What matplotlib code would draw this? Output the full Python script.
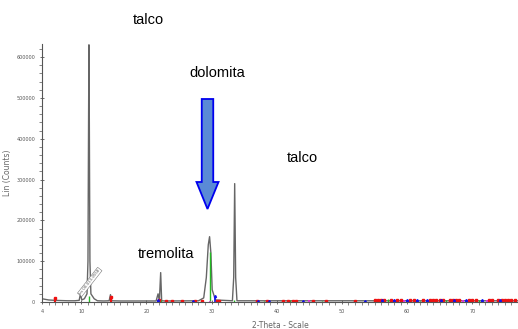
import matplotlib
matplotlib.use("Agg")
import matplotlib.pyplot as plt
from matplotlib.patches import FancyArrow

theta = [4.0, 5.0, 6.0, 7.0, 8.0, 9.0, 9.7, 9.9, 10.1, 10.5, 10.9, 11.05, 11.15,
         11.2, 11.25, 11.35, 11.5, 12.0, 12.5, 13.5, 14.3, 14.5, 14.7, 16.0,
         21.5, 21.8, 22.0, 22.2, 22.35, 23.0, 28.0, 28.8, 29.2, 29.5, 29.7,
         29.9, 30.1, 30.4, 30.6, 33.2, 33.4, 33.55, 33.7, 33.9, 40.0, 50.0,
         60.0, 70.0, 77.0]
counts = [8000, 5000, 4000, 3500, 3000, 3000, 4000, 20000, 5000, 8000, 20000,
          100000, 470000, 630000, 470000, 100000, 20000, 8000, 3000, 2500, 3000,
          18000, 3000, 2500, 2500, 20000, 3000, 72000, 3000, 2500, 3000, 10000,
          60000, 140000, 160000, 120000, 30000, 15000, 5000, 3000, 60000,
          290000, 60000, 3000, 3000, 3000, 3000, 3000, 3000]

# reference stick patterns (2-theta, counts)
green_pos = [11.2, 22.3, 29.7, 33.5, 38.0, 42.0, 47.0, 57.0, 62.0, 66.0, 71.0]
green_h = [15000, 6000, 122000, 6000, 3000, 4000, 3000, 8000, 3000, 4000, 4000]
red_pos = [6.0, 14.6, 22.0, 23.0, 24.0, 25.5, 27.5, 28.5, 30.8, 31.2, 37.0,
           38.5, 41.0, 41.8, 42.5, 43.0, 45.5, 47.5, 52.0, 55.0, 55.5, 56.0,
           56.5, 57.5, 58.5, 59.0, 60.5, 61.0, 62.5, 63.5, 64.0, 64.5, 65.0,
           65.5, 66.5, 67.0, 67.5, 68.0, 69.5, 70.0, 70.5, 72.5, 73.0, 74.0,
           74.5, 75.0, 75.5, 76.0, 76.5]
red_h = [9000, 12000, 4000, 3000, 3000, 3000, 3000, 3000, 3000, 3000, 3000,
         3000, 3000, 3000, 3000, 3000, 3000, 3000, 3000, 4000, 4000, 4000,
         4000, 4000, 4000, 4000, 4000, 4000, 4000, 4000, 4000, 4000, 4000,
         4000, 4000, 4000, 4000, 4000, 4000, 4000, 4000, 4000, 4000, 4000,
         4000, 4000, 4000, 4000, 4000]
blue_pos = [21.8, 27.2, 30.5, 37.2, 38.8, 44.0, 53.5, 56.2, 58.0, 60.0, 61.5,
            63.0, 65.2, 67.2, 69.0, 71.5, 74.2]
blue_h = [6000, 3000, 14000, 3000, 3000, 3000, 3000, 4000, 5000, 4000, 4000,
          4000, 4000, 4000, 4000, 4000, 4000]
mag_pos = [29.8, 45.0, 59.5, 68.5, 72.3]
mag_h = [3000, 5000, 4000, 4000, 4000]

xticks = [4, 10, 20, 30, 40, 50, 60, 70]
yticks = [0, 100000, 200000, 300000, 400000, 500000, 600000]

W, H = 518, 329
fig = plt.figure(figsize=(W / 100, H / 100), dpi=100)
ax = fig.add_axes([42 / W, 1 - 302 / H, 1 - 42 / W, (302 - 44) / H])

ax.plot(theta, counts, color="#666666", lw=1.0)
ax.vlines(green_pos, 0, green_h, color="#22bb22", lw=1.0)
ax.vlines(red_pos, 0, red_h, color="#ee1111", lw=1.6)
ax.vlines(blue_pos, 0, blue_h, color="#1111ee", lw=1.2)
ax.vlines(mag_pos, 0, mag_h, color="#ee22ee", lw=1.2)
ax.plot(red_pos, red_h, "s", color="#ee1111", ms=1.5)
ax.plot(blue_pos, blue_h, "^", color="#1111ee", ms=1.5)

ax.set_xlim(4, 77)
ax.set_ylim(0, 632000)
ax.set_xticks(xticks)
ax.set_xticks(range(4, 78), minor=True)
ax.set_yticks(yticks)
ax.set_yticks(range(0, 632000, 20000), minor=True)
ax.set_xticklabels([str(t) for t in xticks])
ax.set_yticklabels([str(t) for t in yticks])
ax.tick_params(labelsize=3.5, colors="#555555", length=3, width=0.6,
               direction="inout")
ax.tick_params(which="minor", length=2, width=0.5, color="#555555")
for s in ["top", "right"]:
    ax.spines[s].set_visible(False)
for s in ["left", "bottom"]:
    ax.spines[s].set_color("#555555")
    ax.spines[s].set_linewidth(0.8)

ax.set_xlabel("2-Theta - Scale", fontsize=5.5, color="#666666", labelpad=5)
ax.set_ylabel("Lin (Counts)", fontsize=5.5, color="#666666", labelpad=3)

ax.text(9.6, 16000, "Im 00-013-0558", rotation=52, fontsize=2.8,
        color="#555555", ha="left", va="bottom",
        bbox=dict(boxstyle="square,pad=0.2", fc="white", ec="#777777", lw=0.4))

# annotations
font = dict(family=["Liberation Sans", "DejaVu Sans"], fontsize=10.5)
fig.text(148 / W, 1 - 20 / H, "talco", ha="center", va="center", **font)
fig.text(217 / W, 1 - 73 / H, "dolomita", ha="center", va="center", **font)
fig.text(302 / W, 1 - 158 / H, "talco", ha="center", va="center", **font)
fig.text(166 / W, 1 - 254 / H, "tremolita", ha="center", va="center", **font)

arrow = FancyArrow(207.5 / W, 1 - 99 / H, 0, -(209 - 99) / H,
                   width=11.5 / W, head_width=22 / W, head_length=27 / H,
                   length_includes_head=True, transform=fig.transFigure,
                   fc="#5a8ad6", ec="#0000ee", lw=1.3)
fig.patches.append(arrow)

fig.savefig("out.png", dpi=100)
